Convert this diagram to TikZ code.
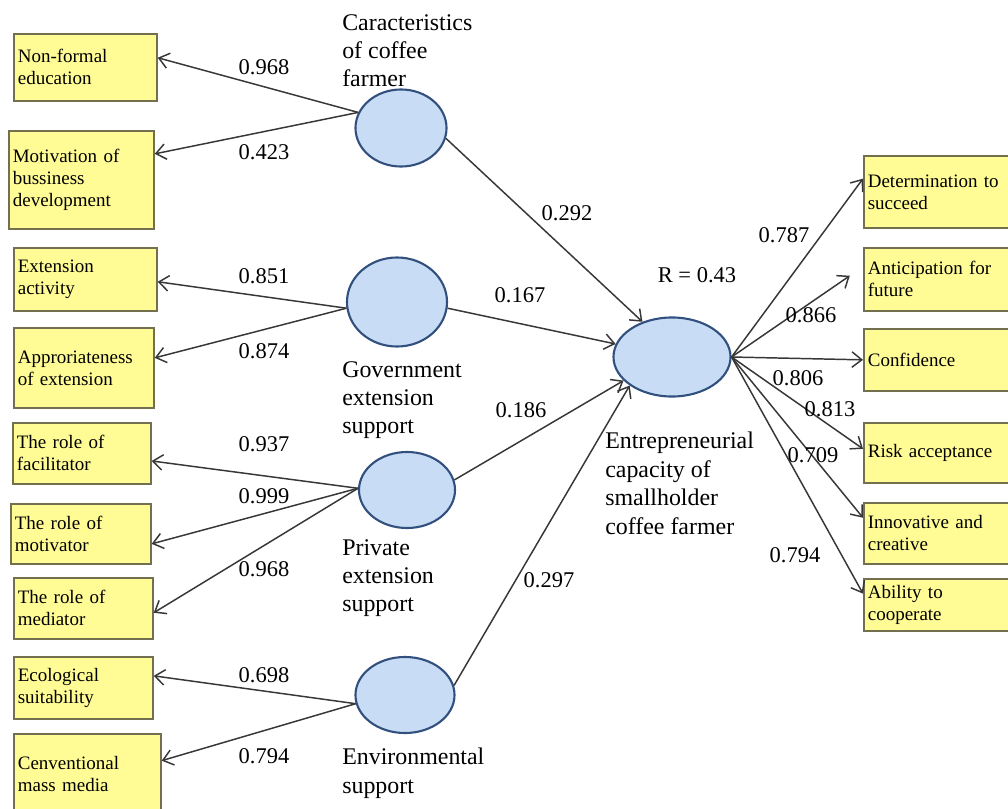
\documentclass[tikz,border=0pt]{standalone}
\usepackage{fontspec}
\setmainfont{Liberation Serif}
\usetikzlibrary{positioning}
\usetikzlibrary{arrows.meta}
\usetikzlibrary{shapes.geometric}
\definecolor{boxfill}{RGB}{255,252,150}
\definecolor{boxline}{RGB}{115,112,80}
\definecolor{lvfill}{RGB}{200,221,245}
\definecolor{lvline}{RGB}{50,80,125}
\definecolor{arrowgray}{RGB}{55,55,55}
\tikzset{
        indicator/.style={draw=boxline,fill=boxfill,line width=1.2pt,anchor=north west,align=left,inner xsep=0.1cm,inner ysep=0pt,font=\fontsize{13.5}{15.6}\selectfont},
        latent/.style={ellipse,draw=lvline,fill=lvfill,line width=1.5pt,inner sep=0pt},
        weight/.style={font=\fontsize{16}{19}\selectfont,inner sep=0pt},
        caption/.style={anchor=north west,align=left,inner sep=0pt,font=\fontsize{17}{20.2}\selectfont},
        link/.style={draw=arrowgray,line width=1.05pt,-{Straight Barb[length=7pt,width=11pt]}},
        }

\begin{document}
\begin{tikzpicture}[x=0.025cm,y=-0.025cm]
			\useasboundingbox (0,0) rectangle (1008,809);
			\clip (0,0) rectangle (1008,809);

			% left indicators
			\node [indicator, text width=3.375cm, minimum height=1.675cm] (nonformal) at (13,33) {Non-formal\\education};
			\node [indicator, text width=3.425cm, minimum height=2.45cm] (motivation) at (8,130) {Motivation of\\bussiness\\development};
			\node [indicator, text width=3.375cm, minimum height=1.575cm] (extactivity) at (13,247) {Extension\\activity};
			\node [indicator, text width=3.3cm, minimum height=2cm] (appropriate) at (13,327) {Approriateness\\of extension};
			\node [indicator, text width=3.25cm, minimum height=1.525cm] (facilitator) at (12,422) {The role of\\facilitator};
			\node [indicator, text width=3.3cm, minimum height=1.5cm] (motivator) at (10,503) {The role of\\motivator};
			\node [indicator, text width=3.275cm, minimum height=1.525cm] (mediator) at (13,577) {The role of\\mediator};
			\node [indicator, text width=3.275cm, minimum height=1.55cm] (ecological) at (13,656) {Ecological\\suitability};
			\node [indicator, text width=3.475cm, minimum height=2cm] (massmedia) at (13,733) {Cenventional\\mass media};

			% right indicators
			\node [indicator, text width=3.55cm, minimum height=1.8cm] (determination) at (863,155) {Determination to\\succeed};
			\node [indicator, text width=3.55cm, minimum height=1.575cm] (anticipation) at (863,247) {Anticipation for\\future};
			\node [indicator, text width=3.55cm, minimum height=1.55cm] (confidence) at (863,328) {Confidence};
			\node [indicator, text width=3.55cm, minimum height=1.5cm] (risk) at (863,422) {Risk acceptance};
			\node [indicator, text width=3.55cm, minimum height=1.525cm] (innovative) at (863,502) {Innovative and\\creative};
			\node [indicator, text width=3.55cm, minimum height=1.3cm] (cooperate) at (863,578) {Ability to\\cooperate};

			% latent variables
			\node [latent, minimum width=2.275cm, minimum height=1.925cm] (farmer) at (401,128) {};
			\node [latent, minimum width=2.5cm, minimum height=2.225cm] (government) at (397,302) {};
			\node [latent, minimum width=2.4cm, minimum height=1.9cm] (private) at (407,490) {};
			\node [latent, minimum width=2.475cm, minimum height=1.9cm] (environ) at (405,695) {};
			\node [latent, minimum width=2.925cm, minimum height=1.975cm] (capacity) at (672,357) {};

			% latent labels
			\node [caption] (farmertext) at (342,14) {Caracteristics\\of coffee\\farmer};
			\node [caption] (governmenttext) at (342,361) {Government\\extension\\support};
			\node [caption] (privatetext) at (342,539) {Private\\extension\\support};
			\node [caption] (environtext) at (342,748) {Environmental\\support};
			\node [caption] (capacitytext) at (605,432) {Entrepreneurial\\capacity of\\smallholder\\coffee farmer};
			\node [weight] (rsquare) at (697,275) {R = 0.43};

			% outer loadings, left
			\draw [link] (farmer.160) to ([yshift=0.24cm]nonformal.east);
			\draw [link] (farmer.160) to ([yshift=0.65cm]motivation.east);
			\draw [link] (government.187) to ([yshift=-0.06cm]extactivity.east);
			\draw [link] (government.187) to ([yshift=0.25cm]appropriate.east);
			\draw [link] (private.178) to ([yshift=-0.19cm]facilitator.east);
			\draw [link] (private.178) to ([yshift=-0.25cm]motivator.east);
			\draw [link] (private.178) to ([yshift=-0.11cm]mediator.east);
			\draw [link] (environ.190) to ([yshift=0.3cm]ecological.east);
			\draw [link] (environ.190) to ([yshift=0.33cm]massmedia.east);

			% path coefficients
			\draw [link] (farmer.-13) to (capacity.130);
			\draw [link] (government.-7) to (capacity.167);
			\draw [link] (private.12) to (capacity.206);
			\draw [link] (environ.11) to (capacity.214);

			% outer loadings, right
			\draw [link] (capacity.east) to ([yshift=0.33cm]determination.west);
			\draw [link] (capacity.east) to ([shift={(-0.33cm,0.09cm)}]anticipation.west);
			\draw [link] (capacity.east) to (confidence.west);
			\draw [link] (capacity.east) to ([yshift=0.1cm]risk.west);
			\draw [link] (capacity.east) to ([yshift=0.39cm]innovative.west);
			\draw [link] (capacity.east) to ([yshift=0.28cm]cooperate.west);

			% weights
			\node [weight] (w1) at (264,67) {0.968};
			\node [weight] (w2) at (264,152) {0.423};
			\node [weight] (w3) at (264,276) {0.851};
			\node [weight] (w4) at (264,351) {0.874};
			\node [weight] (w5) at (264,444) {0.937};
			\node [weight] (w6) at (264,496) {0.999};
			\node [weight] (w7) at (264,569) {0.968};
			\node [weight] (w8) at (264,675) {0.698};
			\node [weight] (w9) at (264,756) {0.794};
			\node [weight] (b1) at (567,213) {0.292};
			\node [weight] (b2) at (520,295) {0.167};
			\node [weight] (b3) at (521,410) {0.186};
			\node [weight] (b4) at (549,580) {0.297};
			\node [weight] (v1) at (784,235) {0.787};
			\node [weight] (v2) at (811,315) {0.866};
			\node [weight] (v3) at (798,378) {0.806};
			\node [weight] (v4) at (830,409) {0.813};
			\node [weight] (v5) at (813,455) {0.709};
			\node [weight] (v6) at (795,555) {0.794};
		\end{tikzpicture}
\end{document}
